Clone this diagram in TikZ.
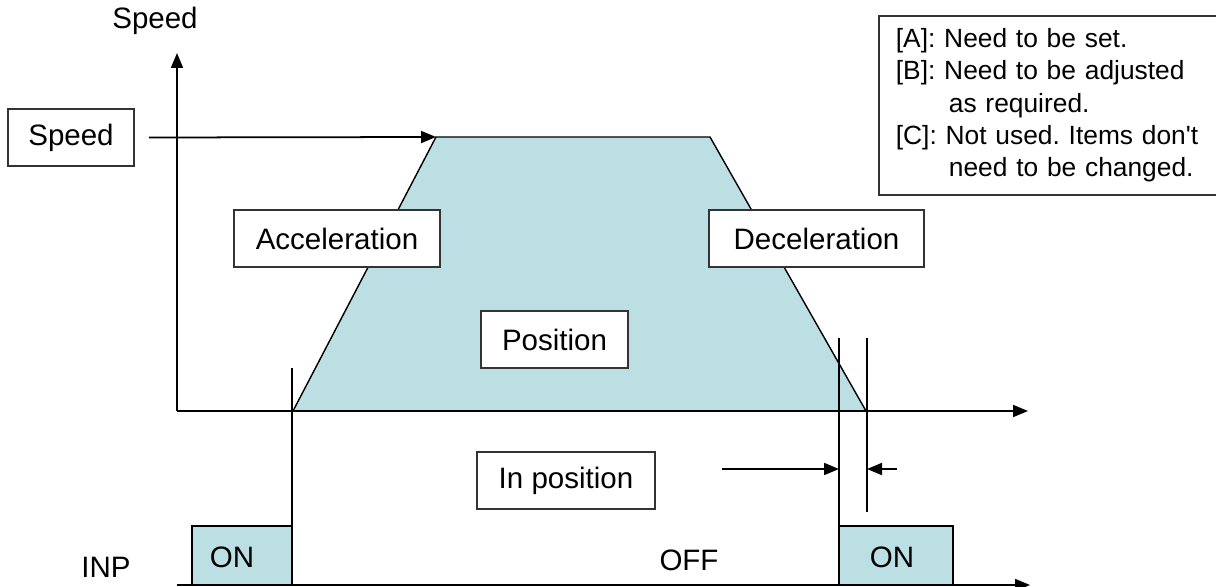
\documentclass[tikz,border=0pt]{standalone}
\usepackage{fontspec}
\setmainfont{Liberation Sans}
\usetikzlibrary{arrows.meta}
\definecolor{inpfill}{RGB}{187,223,226}
\frenchspacing

\begin{document}
\begin{tikzpicture}[x=0.02cm,y=-0.02cm,>={Triangle[length=0.3cm,width=0.24cm]},line width=1pt,
    main box/.style={rectangle,draw=black!80,fill=white,minimum height=1.14cm,inner sep=0pt,font=\fontsize{16.8}{20}\selectfont},
    main text/.style={inner sep=0pt,font=\fontsize{16.8}{20}\selectfont}]
                \useasboundingbox (0,0) rectangle (1216,587);

                \coordinate (a) at (293,411);
                \coordinate (b) at (436,137);
                \coordinate (c) at (710,137);
                \coordinate (d) at (866,411);
                \fill[inpfill] (a) -- (b) -- (c) -- (d) -- cycle;
                \draw[line width=0.8pt] (a) -- (b) -- (c) -- (d);

                \fill[inpfill] (192,585) rectangle (292,526);
                \fill[inpfill] (839,585) rectangle (953,526);

                \coordinate (o1) at (177,411);
                \coordinate (y1) at (177,53);
                \coordinate (x1) at (1028,411);
                \coordinate (o2) at (177,585);
                \coordinate (x2) at (1030,585);
                \draw[->] (o1) -- (y1);
                \draw[->] (o1) -- (x1);
                \draw[->] (o2) -- (x2);

                \coordinate (p1) at (292,368);
                \coordinate (p2) at (839,338);
                \coordinate (p3) at (867,338);
                \draw (192,585) -- (192,526) -- (292,526);
                \draw (p1) -- (292,585);
                \draw (p2) -- (839,585);
                \draw (839,526) -- (953,526) -- (953,585);
                \draw (p3) -- (867,512);

                \node [main text](0) at (155,21){Speed};
                \node [main box, minimum width=2.52cm](1) at (71,137.5){Speed};
                \node [main box, minimum width=4.12cm](2) at (337,238.5){Acceleration};
                \node [main box, minimum width=4.3cm](3) at (816.5,238.5){Deceleration};
                \node [main box, minimum width=2.94cm](4) at (554.5,339.5){Position};
                \node [main box, minimum width=3.56cm](5) at (566,480.5){In position};

                \node [main text](6) at (106,567){INP};
                \node [main text](7) at (232,557){ON};
                \node [main text](8) at (892,557){ON};
                \node [main text](9) at (689,560){OFF};

                \coordinate (q1) at (722,469);
                \coordinate (q2) at (897,469);
                \draw[->] ([xshift=0.28cm]1.east) -- (b);
                \draw[->] (q1) -- (839,469);
                \draw[->] (q2) -- (867,469);

                \node [rectangle, draw=black!80, anchor=north west, minimum height=3.58cm, text width=7cm, inner xsep=0.34cm, align=left, font=\fontsize{15}{18.4}\selectfont](10) at (878,15)
                    {{[A]}: Need to be set.\\
                     {[B]}: Need to be adjusted\\
                     \hspace*{1.06cm}as required.\\
                     {[C]}: Not used. Items don\textquotesingle t\\
                     \hspace*{1.06cm}need to be changed.};
\end{tikzpicture}
\end{document}
